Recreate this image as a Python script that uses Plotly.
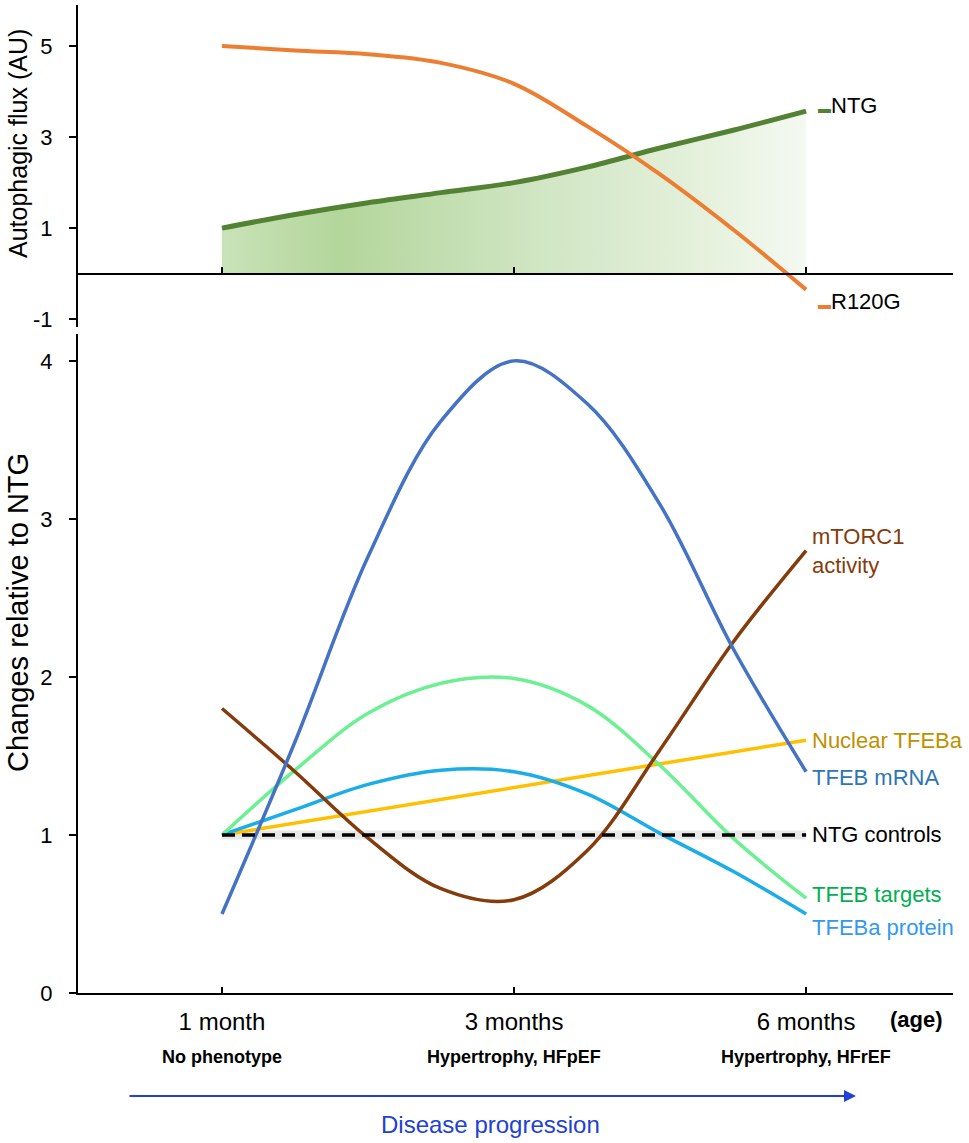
import plotly.graph_objects as go

# ---- data ----
ages = ["1 month", "3 months", "6 months"]
phenotypes = ["No phenotype", "Hypertrophy, HFpEF", "Hypertrophy, HFrEF"]
age_pos = [0, 1, 2]

# top panel: autophagic flux
ntg_x = [0, 0.25, 0.5, 0.75, 1.0, 1.25, 1.5, 1.75, 2.0]
ntg_y = [1.0, 1.3, 1.56, 1.78, 2.0, 2.34, 2.76, 3.15, 3.57]
r120g_x = [0, 0.25, 0.5, 0.75, 1.0, 1.25, 1.5, 1.75, 2.0]
r120g_y = [5.0, 4.9, 4.82, 4.63, 4.17, 3.24, 2.18, 0.97, -0.35]
flux_ticks = [-1, 1, 3, 5]

# bottom panel: changes relative to NTG
mrna_x = [0, 0.25, 0.5, 0.75, 1.0, 1.25, 1.5, 1.75, 2.0]
mrna_y = [0.5, 1.59, 2.76, 3.62, 4.0, 3.73, 3.09, 2.18, 1.4]
targets_x = [0, 0.25, 0.5, 0.75, 1.0, 1.25, 1.5, 1.75, 2.0]
targets_y = [1.0, 1.41, 1.77, 1.96, 1.99, 1.82, 1.44, 0.98, 0.6]
protein_x = [0, 0.25, 0.5, 0.75, 1.0, 1.25, 1.5, 1.75, 2.0]
protein_y = [1.0, 1.16, 1.32, 1.41, 1.4, 1.26, 1.01, 0.77, 0.5]
nuclear_x = [0, 2]
nuclear_y = [1.0, 1.6]
mtorc_x = [0, 0.25, 0.5, 0.75, 1.0, 1.25, 1.5, 1.75, 2.0]
mtorc_y = [1.8, 1.4, 0.98, 0.66, 0.59, 0.9, 1.54, 2.22, 2.8]
ctrl_x = [0, 2]
ctrl_y = [1, 1]

FONT = "Liberation Sans, Arial, sans-serif"
NARROW = "Liberation Sans Narrow, Arial Narrow, Liberation Sans, sans-serif"

W, H = 969, 1143
HP = 1130  # pixel rows -> paper fraction (page ends up slightly squeezed vertically)


def py(p):
    return 1 - p / HP


fig = go.Figure()

# top panel
fig.add_trace(go.Scatter(x=ntg_x, y=ntg_y, xaxis="x2", yaxis="y2", mode="lines",
                         line=dict(color="#548235", width=5, shape="spline"),
                         fill="tozeroy",
                         fillgradient=dict(type="horizontal",
                                           colorscale=[[0, "#c9e3b8"], [0.2, "#b3d69b"], [0.5, "#cde4bf"],
                                                       [0.8, "#e3f0da"], [1, "#f4f9f1"]])))
fig.add_trace(go.Scatter(x=r120g_x, y=r120g_y, xaxis="x2", yaxis="y2", mode="lines",
                         line=dict(color="#ED7D31", width=4, shape="spline")))

# bottom panel
def curve(x, y, color):
    fig.add_trace(go.Scatter(x=x, y=y, mode="lines", line=dict(color=color, width=3.5, shape="spline")))

fig.add_trace(go.Scatter(x=ctrl_x, y=ctrl_y, mode="lines",
                         line=dict(color="rgba(0,0,0,0.09)", width=9)))
curve(nuclear_x, nuclear_y, "#FFC000")
curve(protein_x, protein_y, "#1AADE8")
curve(targets_x, targets_y, "#6CF093")
curve(mtorc_x, mtorc_y, "#843C0C")
curve(mrna_x, mrna_y, "#4472C4")
fig.add_trace(go.Scatter(x=ctrl_x, y=ctrl_y, mode="lines",
                         line=dict(color="black", width=3.5, dash="13px,7px")))

# right-hand labels
labels = [
    ("mTORC1<br>activity", 2.8, "#843C0C", 0),
    ("Nuclear TFEBa", 1.6, "#BF9000", 0),
    ("TFEB mRNA", 1.4, "#2E75B6", -6),
    ("NTG controls", 1.0, "black", 0),
    ("TFEB targets", 0.6, "#00B050", 4),
    ("TFEBa protein", 0.5, "#3399EE", -14),
]
for text, yv, col, ys in labels:
    fig.add_annotation(x=2, y=yv, xref="x", yref="y", text=text, showarrow=False,
                       xanchor="left", yanchor="middle", xshift=4, yshift=ys, align="left",
                       font=dict(family=FONT, size=22, color=col))

fig.add_annotation(x=2, y=3.7, xref="x2", yref="y2", showarrow=False, xanchor="left", yanchor="middle",
                   xshift=10, text="<span style='color:#548235;font-size:13px'>▬</span>NTG",
                   font=dict(family=FONT, size=22, color="black"))
fig.add_annotation(x=2, y=-0.6, xref="x2", yref="y2", showarrow=False, xanchor="left", yanchor="middle",
                   xshift=10, text="<span style='color:#ED7D31;font-size:13px'>▬</span>R120G",
                   font=dict(family=FONT, size=22, color="black"))

# axis titles
fig.add_annotation(x=18 / W, y=py(144), xref="paper", yref="paper", text="Autophagic flux (AU)",
                   xanchor="center", yanchor="middle", textangle=-90, showarrow=False,
                   font=dict(family=FONT, size=25, color="black"))
fig.add_annotation(x=18 / W, y=py(613), xref="paper", yref="paper", text="Changes relative to NTG",
                   xanchor="center", yanchor="middle", textangle=-90, showarrow=False,
                   font=dict(family=FONT, size=29, color="black"))

# phenotype row, age marker, disease progression arrow
for xp, ph in zip(age_pos, phenotypes):
    fig.add_annotation(x=xp, y=py(1057), xref="x", yref="paper", text="<b>" + ph + "</b>",
                       xanchor="center", yanchor="middle", showarrow=False,
                       font=dict(family=NARROW, size=18, color="black"))
fig.add_annotation(x=916 / W, y=py(1019), xref="paper", yref="paper", text="<b>(age)</b>",
                   xanchor="center", yanchor="middle", showarrow=False,
                   font=dict(family=NARROW, size=22, color="black"))
fig.add_annotation(x=856 / W, y=py(1096), xref="paper", yref="paper", text="",
                   showarrow=True, ax=-728, ay=0, axref="pixel", ayref="pixel",
                   arrowhead=2, arrowsize=1.2, arrowwidth=2, arrowcolor="#2040D8")
fig.add_annotation(x=490 / W, y=py(1124), xref="paper", yref="paper", text="Disease progression",
                   xanchor="center", yanchor="middle", showarrow=False,
                   font=dict(family=NARROW, size=24, color="#2040D8"))

xdom = [78 / W, 953 / W]
fig.update_layout(
    width=W, height=H, margin=dict(l=0, r=0, t=0, b=0), autosize=False,
    paper_bgcolor="white", plot_bgcolor="white", showlegend=False,
    font=dict(family=FONT, size=22, color="black"),
    xaxis=dict(domain=xdom, range=[-0.493, 2.503], anchor="y", showline=True, linecolor="black",
               linewidth=2, tickvals=age_pos + [2.5], ticktext=ages + [""], ticks="inside", ticklen=6,
               tickwidth=1.5, tickcolor="black", showgrid=False, zeroline=False,
               tickfont=dict(family=NARROW, size=24), ticklabelstandoff=6),
    yaxis=dict(domain=[py(993), py(334)], range=[0, 4.17], anchor="x", showline=True,
               linecolor="black", linewidth=2, tickvals=[0, 1, 2, 3, 4], ticks="outside", ticklen=7,
               tickwidth=1.5, tickcolor="black", showgrid=False, zeroline=False, ticklabelstandoff=12,
               tickfont=dict(size=22)),
    xaxis2=dict(domain=xdom, range=[-0.493, 2.503], anchor="free", position=py(274),
                showline=True, linecolor="black", linewidth=2, tickvals=age_pos + [2.5], ticks="inside",
                ticklen=6, tickwidth=1.5, tickcolor="black", showticklabels=False, showgrid=False,
                zeroline=False),
    yaxis2=dict(domain=[py(327), py(5)], range=[-1.17, 5.9], anchor="x2", showline=True,
                linecolor="black", linewidth=2, tickvals=flux_ticks, ticktext=[str(v) for v in flux_ticks],
                ticks="outside", ticklen=7, tickwidth=1.5, tickcolor="black", showgrid=False,
                zeroline=False, ticklabelstandoff=12, tickfont=dict(size=22)),
)

fig.write_html("out.html", config={"displayModeBar": False},
               post_script="document.body.style.margin='0';")
